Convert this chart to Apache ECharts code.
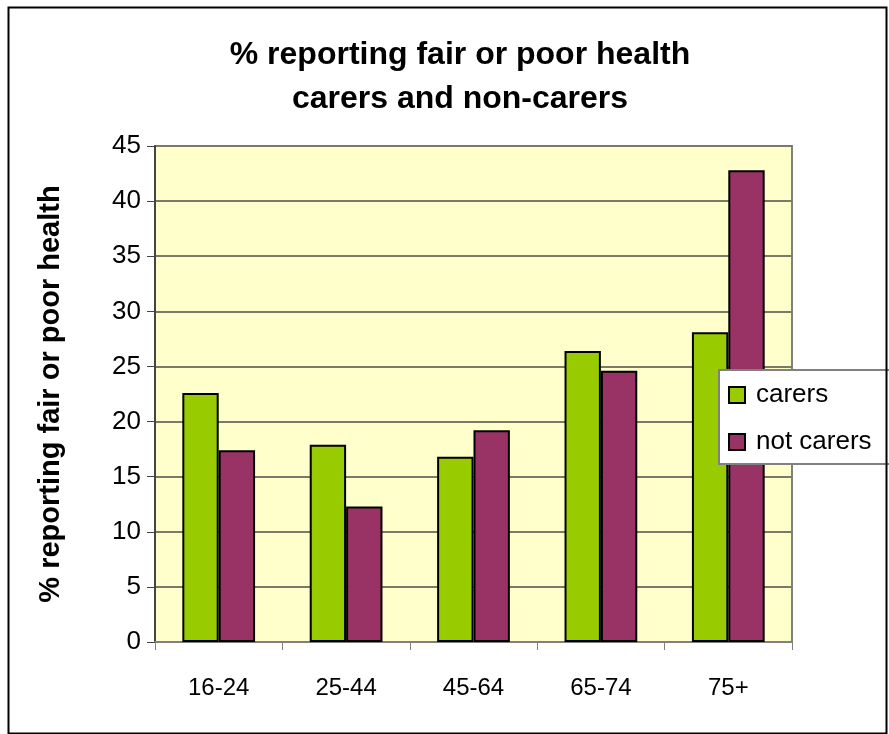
<!DOCTYPE html>
<html>
<head>
<meta charset="utf-8">
<script src="https://cdn.jsdelivr.net/npm/echarts@6/dist/echarts.min.js"></script>
<style>
html,body{margin:0;padding:0;background:#fff;}
#c{width:889px;height:734px;}
</style>
</head>
<body>
<div id="c"></div>
<script>
const categories = ['16-24', '25-44', '45-64', '65-74', '75+'];
const carers = [22.6, 17.9, 16.8, 26.4, 28.1];
const notCarers = [17.4, 12.3, 19.2, 24.6, 42.8];
const seriesNames = ['carers', 'not carers'];
const titleLines = ['% reporting fair or poor health', 'carers and non-carers'];
const yAxisName = '% reporting fair or poor health';

const FONT = '"Liberation Sans", Arial, sans-serif';
const chart = echarts.init(document.getElementById('c'), null, {renderer: 'canvas'});
chart.setOption({
  animation: false,
  backgroundColor: '#ffffff',
  textStyle: {fontFamily: FONT},
  title: {
    text: titleLines.join('\n'),
    left: 455, textAlign: 'center', top: 28,
    textStyle: {fontFamily: FONT, fontSize: 32, fontWeight: 'bold', color: '#000', lineHeight: 44}
  },
  graphic: [{
    type: 'rect', left: 6, top: 5, z: 100, silent: true,
    shape: {width: 878, height: 726},
    style: {fill: 'none', stroke: '#000', lineWidth: 2}
  }],
  grid: {
    left: 155, right: 97, top: 146, bottom: 92,
    show: true, backgroundColor: '#FFFFCC', borderColor: '#808080', borderWidth: 2
  },
  legend: {
    orient: 'vertical', left: 719, top: 370,
    data: seriesNames,
    icon: 'rect', itemWidth: 16, itemHeight: 16, itemGap: 21,
    backgroundColor: '#ffffff', borderColor: '#808080', borderWidth: 2,
    padding: [12, 30, 9, 9],
    itemStyle: {borderColor: '#000', borderWidth: 2},
    textStyle: {fontFamily: FONT, fontSize: 26, color: '#000', padding: [0, 0, 0, 6]}
  },
  xAxis: {
    type: 'category', data: categories,
    axisLine: {lineStyle: {color: '#808080', width: 2}},
    axisTick: {show: true, length: 8, alignWithLabel: false, lineStyle: {color: '#808080', width: 1}},
    axisLabel: {fontFamily: FONT, fontSize: 24, color: '#000', margin: 34}
  },
  yAxis: {
    type: 'value', min: 0, max: 45, interval: 5,
    name: yAxisName, nameLocation: 'middle', nameGap: 90,
    nameTextStyle: {fontFamily: FONT, fontSize: 29, fontWeight: 'bold', color: '#000'},
    axisLine: {show: true, lineStyle: {color: '#444', width: 2}},
    axisTick: {show: true, length: 8, lineStyle: {color: '#444', width: 1}},
    axisLabel: {fontFamily: FONT, fontSize: 26, color: '#000', margin: 14},
    splitLine: {lineStyle: {color: '#7a7a66', width: 2}}
  },
  series: [
    {name: seriesNames[0], type: 'bar', data: carers, barGap: '0%', barCategoryGap: '42.9%',
     itemStyle: {color: '#99CC00', borderColor: '#000', borderWidth: 2}},
    {name: seriesNames[1], type: 'bar', data: notCarers, barGap: '0%', barCategoryGap: '42.9%',
     itemStyle: {color: '#993366', borderColor: '#000', borderWidth: 2}}
  ]
});
</script>
</body>
</html>
